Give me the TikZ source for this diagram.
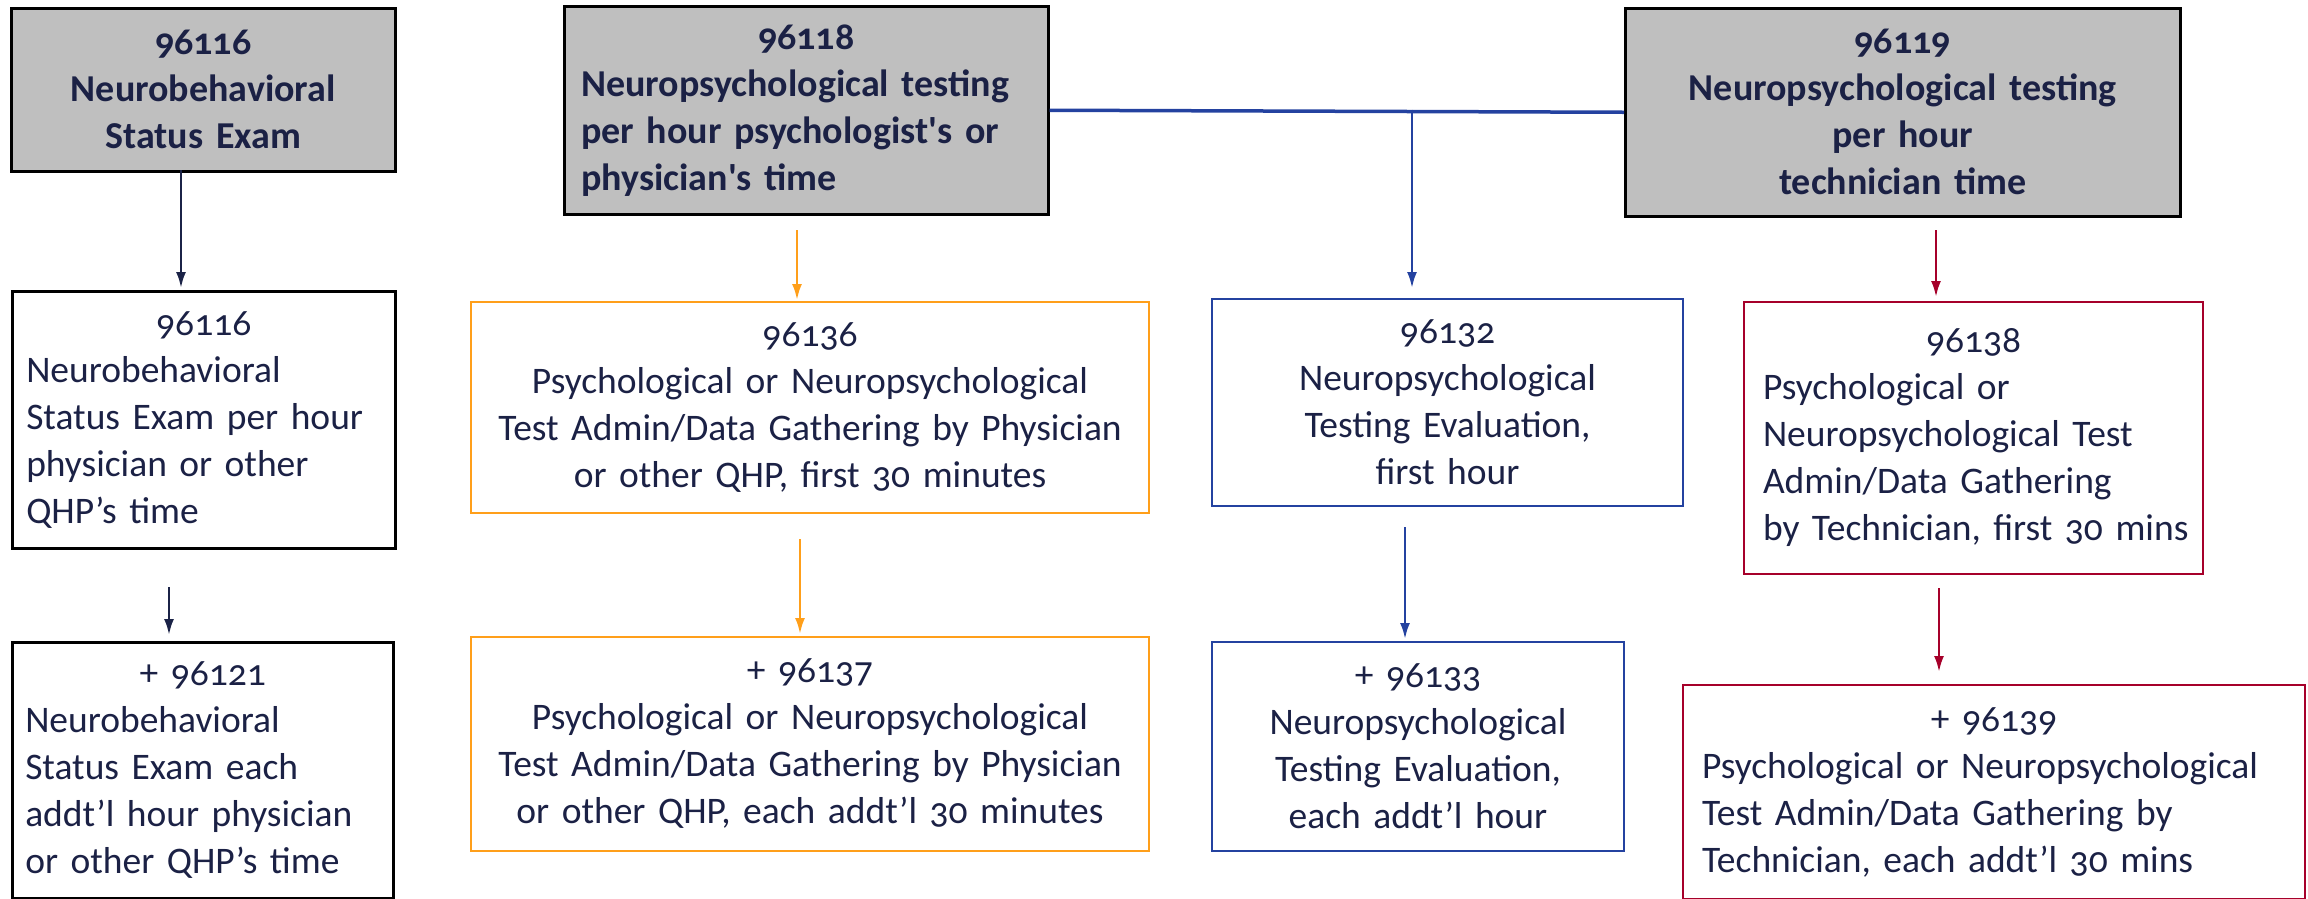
\documentclass[tikz,border=0pt]{standalone}
\usepackage{fontspec}
\setmainfont{Carlito}[Numbers=OldStyle]
\usetikzlibrary{arrows.meta}
\definecolor{txt}{HTML}{1B2145}
\definecolor{navy}{HTML}{1B2347}
\definecolor{hdrgray}{HTML}{BFBFBF}
\definecolor{orng}{HTML}{FF9F1A}
\definecolor{blu}{HTML}{2442A0}
\definecolor{rd}{HTML}{A6002A}
\begin{document}
\begin{tikzpicture}[x=1pt,y=-1pt,
  bx/.style={draw, line width=2.5pt, inner sep=0pt, anchor=north west, text=txt,
    font=\fontsize{37.5}{47}\selectfont},
  hdr/.style={bx, fill=hdrgray, draw=black, font=\fontsize{38}{47}\selectfont\bfseries},
  conn/.style={line width=2.5pt, -{Latex[length=16pt,width=10pt]}}]
\useasboundingbox (0,0) rectangle (2308,898);

% headers
\node[hdr, minimum width=384pt, minimum height=163pt, text width=370pt, align=center]
  (h6) at (10,7) {96116\\Neurobehavioral\\Status Exam};
\node[hdr, minimum width=484pt, minimum height=208pt, text width=450pt, align=left]
  (h8) at (563,5) {\centerline{96118}\par Neuropsychological testing\\per hour psychologist\textquotesingle s or\\physician\textquotesingle s time};
\node[hdr, minimum width=555pt, minimum height=208pt, text width=530pt, align=center]
  (h9) at (1624,7) {96119\\Neuropsychological testing\\per hour\\technician time};

% first row
\node[bx, draw=black, minimum width=383pt, minimum height=257pt, text width=355pt, align=left]
  (b1) at (11,290) {\centerline{96116}\par Neurobehavioral\\Status Exam per hour\\physician or other\\QHP’s time};
\node[bx, draw=orng, line width=2pt, minimum width=678pt, minimum height=211pt, text width=660pt, align=center]
  (o1) at (470,301) {96136\\Psychological or Neuropsychological\\Test Admin/Data Gathering by Physician\\or other QHP, first 30 minutes};
\node[bx, draw=blu, line width=2pt, minimum width=471pt, minimum height=207pt, text width=450pt, align=center]
  (u1) at (1211,298) {96132\\Neuropsychological\\Testing Evaluation,\\first hour};
\node[bx, draw=rd, line width=2pt, minimum width=459pt, minimum height=272pt, text width=421pt, align=left]
  (r1) at (1743,301) {\centerline{96138}\par Psychological or\\Neuropsychological Test\\Admin/Data Gathering\\\mbox{by Technician, first 30 mins}};

% second row
\node[bx, draw=black, minimum width=381pt, minimum height=256pt, text width=355pt, align=left]
  (b2) at (11,641) {\centerline{+ 96121}\par Neurobehavioral\\Status Exam each\\addt’l hour physician\\or other QHP’s time};
\node[bx, draw=orng, line width=2pt, minimum width=678pt, minimum height=214pt, text width=660pt, align=center]
  (o2) at (470,636) {+ 96137\\Psychological or Neuropsychological\\Test Admin/Data Gathering by Physician\\or other QHP, each addt’l 30 minutes};
\node[bx, draw=blu, line width=2pt, minimum width=412pt, minimum height=209pt, text width=395pt, align=center]
  (u2) at (1211,641) {+ 96133\\Neuropsychological\\Testing Evaluation,\\each addt’l hour};
\node[bx, draw=rd, line width=2pt, minimum width=622pt, minimum height=214pt, text width=584pt, align=left]
  (r2) at (1682,684) {\centerline{+ 96139}\par Psychological or Neuropsychological\\Test Admin/Data Gathering by\\Technician, each addt’l 30 mins};

% connector end points
\coordinate (a1s) at (181,170); \coordinate (a1e) at (181,288);
\coordinate (a2s) at (169,587); \coordinate (a2e) at (169,635);
\coordinate (o1s) at (797,230); \coordinate (o1e) at (797,300);
\coordinate (o2s) at (800,539); \coordinate (o2e) at (800,634);
\coordinate (j)   at (1412,109.5); \coordinate (u1e) at (1412,288);
\coordinate (u2s) at (1405,527); \coordinate (u2e) at (1405,639);
\coordinate (r1s) at (1936,230); \coordinate (r1e) at (1936,297);
\coordinate (r2s) at (1939,588); \coordinate (r2e) at (1939,672);

\draw[blu, line width=3.5pt] (h8.east) -- (h9.west);
\draw[conn, navy] (a1s) -- (a1e);
\draw[conn, navy] (a2s) -- (a2e);
\draw[conn, orng] (o1s) -- (o1e);
\draw[conn, orng] (o2s) -- (o2e);
\draw[conn, blu] (j) -- (u1e);
\draw[conn, blu] (u2s) -- (u2e);
\draw[conn, rd] (r1s) -- (r1e);
\draw[conn, rd] (r2s) -- (r2e);
\end{tikzpicture}
\end{document}
